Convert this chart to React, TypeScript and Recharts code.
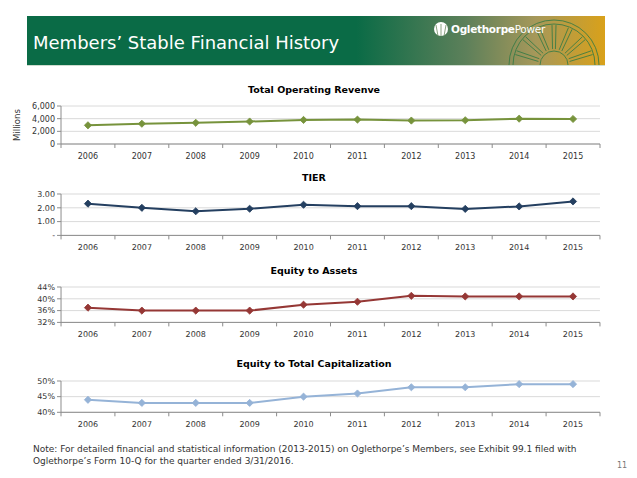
import React from 'react';
import { LineChart, Line, XAxis, YAxis, CartesianGrid } from 'recharts';

const YEARS = ['2006', '2007', '2008', '2009', '2010', '2011', '2012', '2013', '2014', '2015'];
const REVENUE = [2950, 3200, 3350, 3550, 3800, 3850, 3700, 3750, 4000, 3950];
const TIER = [2.3, 2.0, 1.75, 1.93, 2.22, 2.12, 2.12, 1.92, 2.1, 2.46];
const EQ_ASSETS = [37, 36, 36, 36, 38, 39, 41, 40.8, 40.8, 40.8];
const EQ_CAP = [44, 43, 43, 43, 45, 46, 48, 48, 49, 49];

const REVENUE_TICKS = [0, 2000, 4000, 6000];
const TIER_TICKS = [0, 1, 2, 3];
const EQ_ASSETS_TICKS = [32, 36, 40, 44];
const EQ_CAP_TICKS = [40, 45, 50];

const FONT = '"DejaVu Sans", Verdana, sans-serif';
const W = 637;
const AXIS_W = 61;
const RIGHT = 37;
const PLOT_W = W - AXIS_W - RIGHT;
const HALF = PLOT_W / YEARS.length / 2;
const AXIS_COLOR = '#8c8c8c';

const Diamond = ({ cx, cy, fill }: any) => {
  if (cx == null || cy == null) return null;
  const s = 3.6;
  return (
    <polygon
      points={`${cx},${cy - s} ${cx + s},${cy} ${cx},${cy + s} ${cx - s},${cy}`}
      fill={fill}
      stroke={fill}
      strokeWidth={0.8}
    />
  );
};

const YearTick = ({ x, y, payload, index }: any) => {
  const axisY = y - 8;
  return (
    <g>
      <text x={x} y={y + 1} dy="0.71em" textAnchor="middle" fontSize={8} fill="#333" fontFamily={FONT}>
        {payload.value}
      </text>
      <line x1={x - HALF} x2={x - HALF} y1={axisY} y2={axisY + 4} stroke={AXIS_COLOR} />
      {index === YEARS.length - 1 && (
        <line x1={x + HALF} x2={x + HALF} y1={axisY} y2={axisY + 4} stroke={AXIS_COLOR} />
      )}
    </g>
  );
};

interface MiniProps {
  title: string;
  titleY: number;
  plotTop: number;
  plotH: number;
  values: number[];
  color: string;
  ticks: number[];
  fmt: (v: number) => string;
}

const MiniChart = ({ title, titleY, plotTop, plotH, values, color, ticks, fmt }: MiniProps) => {
  const data = YEARS.map((year, i) => ({ year, v: values[i] }));
  const top = 5;
  const bottom = 25;
  return (
    <>
      <div
        style={{
          position: 'absolute',
          left: 114,
          width: 400,
          top: titleY - 7,
          height: 14,
          lineHeight: '14px',
          textAlign: 'center',
          fontFamily: FONT,
          fontWeight: 'bold',
          fontSize: 9.5,
          color: '#000',
        }}
      >
        {title}
      </div>
      <div style={{ position: 'absolute', left: 0, top: plotTop - top, width: W, height: top + plotH + bottom }}>
        <LineChart width={W} height={top + plotH + bottom} data={data} margin={{ top, right: RIGHT, left: 0, bottom: 0 }}>
          <CartesianGrid horizontal vertical={false} stroke="#dadada" />
          <XAxis
            dataKey="year"
            height={bottom}
            interval={0}
            padding={{ left: HALF, right: HALF }}
            tickLine={false}
            tickSize={6}
            tickMargin={2}
            axisLine={{ stroke: AXIS_COLOR }}
            tick={<YearTick />}
          />
          <YAxis
            width={AXIS_W}
            domain={[ticks[0], ticks[ticks.length - 1]]}
            ticks={ticks}
            interval={0}
            tickSize={4}
            tickMargin={2}
            tickFormatter={fmt}
            axisLine={{ stroke: AXIS_COLOR }}
            tickLine={{ stroke: AXIS_COLOR }}
            tick={{ fontSize: 8, fill: '#333', fontFamily: FONT }}
          />
          <Line
            type="linear"
            dataKey="v"
            stroke={color}
            strokeWidth={2}
            isAnimationActive={false}
            dot={(p: any) => <Diamond key={p.index} cx={p.cx} cy={p.cy} fill={color} />}
            activeDot={false}
          />
        </LineChart>
      </div>
    </>
  );
};

const rays = [18, 42, 66, 90, 114, 138, 162];

const Banner = () => (
  <div
    style={{
      position: 'absolute',
      left: 27,
      top: 16,
      width: 578,
      height: 49,
      overflow: 'hidden',
      background: 'linear-gradient(to right, #0a6b46 0%, #0a6b46 57%, #5d805a 76%, #a6985a 88%, #d9a11a 100%)',
      borderBottom: '1px solid #cfdccf',
    }}
  >
    <svg width={578} height={49} style={{ position: 'absolute', left: 0, top: 0 }}>
      <g fill="none" stroke="#2f7a45" strokeWidth={1} opacity={0.8}>
        <path d="M 482 49 A 45 45 0 0 1 572 49" />
        <path d="M 486 49 A 41 41 0 0 1 568 49" />
        <path d="M 513 49 A 14 14 0 0 1 541 49" />
        {rays.map((a) => {
          const r = (a * Math.PI) / 180;
          const cx = 527;
          const cy = 49;
          const x1 = cx + Math.cos(r - 0.09) * 16;
          const y1 = cy - Math.sin(r - 0.09) * 16;
          const x2 = cx + Math.cos(r - 0.05) * 40;
          const y2 = cy - Math.sin(r - 0.05) * 40;
          const x3 = cx + Math.cos(r + 0.09) * 16;
          const y3 = cy - Math.sin(r + 0.09) * 16;
          const x4 = cx + Math.cos(r + 0.05) * 40;
          const y4 = cy - Math.sin(r + 0.05) * 40;
          return <path key={a} d={`M ${x1} ${y1} L ${x2} ${y2} M ${x3} ${y3} L ${x4} ${y4}`} />;
        })}
      </g>
      <circle cx={414} cy={13} r={7} fill="#ffffff" />
      <g stroke="#6d8a62" strokeWidth={0.8}>
        <line x1={414} y1={20} x2={414} y2={8} />
        <line x1={411} y1={20} x2={409} y2={9} />
        <line x1={417} y1={20} x2={419} y2={9} />
      </g>
      <text x={424} y={17} fill="#ffffff" fontFamily={FONT} fontSize={10.5} letterSpacing={-0.3}>
        <tspan fontWeight="bold">Oglethorpe</tspan>
        <tspan>Power</tspan>
      </text>
    </svg>
    <div
      style={{
        position: 'absolute',
        left: 6,
        top: 16,
        color: '#ffffff',
        fontFamily: FONT,
        fontSize: 18,
        lineHeight: '22px',
        whiteSpace: 'nowrap',
      }}
    >
      Members’ Stable Financial History
    </div>
  </div>
);

export default function App() {
  return (
    <div style={{ position: 'absolute', left: 0, top: 0, width: W, height: 478, background: '#fff', overflow: 'hidden' }}>
      <Banner />
      <MiniChart
        title="Total Operating Revenve"
        titleY={90}
        plotTop={106}
        plotH={38}
        values={REVENUE}
        color="#77933c"
        ticks={REVENUE_TICKS}
        fmt={(v) => v.toLocaleString('en-US')}
      />
      <div
        style={{
          position: 'absolute',
          left: 17 - 30,
          top: 125 - 6,
          width: 60,
          height: 12,
          lineHeight: '12px',
          textAlign: 'center',
          transform: 'rotate(-90deg)',
          fontFamily: FONT,
          fontSize: 8.5,
          color: '#333',
        }}
      >
        Millions
      </div>
      <MiniChart
        title="TIER"
        titleY={178}
        plotTop={194.3}
        plotH={41.4}
        values={TIER}
        color="#243f60"
        ticks={TIER_TICKS}
        fmt={(v) => (v === 0 ? '-' : v.toFixed(2))}
      />
      <MiniChart
        title="Equity to Assets"
        titleY={270.5}
        plotTop={287.3}
        plotH={35.4}
        values={EQ_ASSETS}
        color="#953735"
        ticks={EQ_ASSETS_TICKS}
        fmt={(v) => `${v}%`}
      />
      <MiniChart
        title="Equity to Total Capitalization"
        titleY={364.3}
        plotTop={381}
        plotH={31.3}
        values={EQ_CAP}
        color="#95b3d7"
        ticks={EQ_CAP_TICKS}
        fmt={(v) => `${v}%`}
      />
      <div
        style={{
          position: 'absolute',
          left: 33,
          top: 443,
          fontFamily: FONT,
          fontSize: 9,
          lineHeight: '12px',
          color: '#333',
          whiteSpace: 'nowrap',
        }}
      >
        Note: For detailed financial and statistical information (2013-2015) on Oglethorpe’s Members, see Exhibit 99.1 filed with
        <br />
        Oglethorpe’s Form 10-Q for the quarter ended 3/31/2016.
      </div>
      <div
        style={{
          position: 'absolute',
          left: 617,
          top: 460,
          fontFamily: FONT,
          fontSize: 8,
          lineHeight: '12px',
          color: '#777',
        }}
      >
        11
      </div>
    </div>
  );
}
